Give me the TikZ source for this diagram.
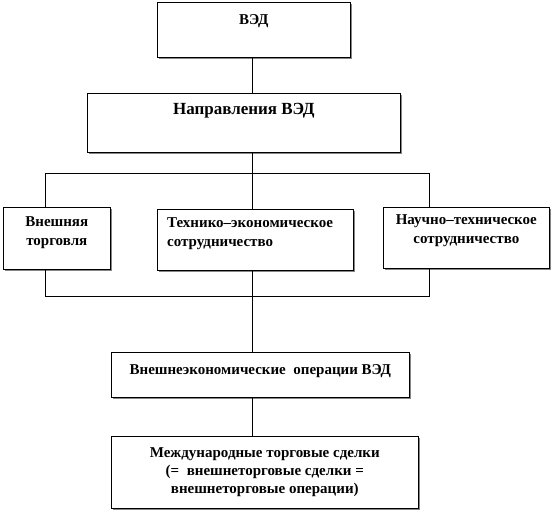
\documentclass[tikz,border=0pt]{standalone}
\usepackage{fontspec}
\setmainfont{Liberation Serif}
\usetikzlibrary{shadows}

\begin{document}
\begin{tikzpicture}[x=1pt,y=-1pt,
  box/.style={draw, line width=.6pt, fill=white, anchor=north west, inner sep=0pt,
    drop shadow={shadow xshift=1.2pt, shadow yshift=-1.2pt, fill=black!60, opacity=.8}},
  txt/.style={anchor=north, inner sep=0pt, align=center, font=\bfseries\fontsize{15}{19.5}\selectfont},
  link/.style={line width=.6pt}]
\useasboundingbox (0,0) rectangle (554,512);

% boxes
\node[box, minimum width=193, minimum height=55,
  label={[txt, yshift=-12pt]north:ВЭД}] (ved) at (157,2) {};
\node[box, minimum width=313, minimum height=59,
  label={[txt, yshift=-10pt, font=\bfseries\fontsize{17}{20}\selectfont]north:Направления ВЭД}] (napr) at (87,93) {};

\node[box, minimum width=107, minimum height=62,
  label={[txt, yshift=-9pt]north:Внешняя\\торговля}] (vt) at (3,207) {};
\node[box, minimum width=196, minimum height=61,
  label={[txt, anchor=north west, align=left, xshift=10pt, yshift=-8pt]north west:Технико–экономическое\\сотрудничество}] (tes) at (157,209) {};
\node[box, minimum width=166, minimum height=61,
  label={[txt, yshift=-7pt]north:Научно–техническое\\сотрудничество}] (nts) at (383,207) {};

\node[box, minimum width=298, minimum height=45,
  label={[txt, yshift=-12pt]north:Внешнеэкономические\ \ операции ВЭД}] (veo) at (111,352) {};
\node[box, minimum width=307, minimum height=72,
  label={[txt, yshift=-11pt, font=\bfseries\fontsize{15}{18}\selectfont]north:Международные торговые сделки\\(=\ \ внешнеторговые сделки =\\внешнеторговые операции)}] (mts) at (111,436) {};

% connectors
\coordinate (mx) at (252,0);
\coordinate (lx) at (45,0);
\coordinate (rx) at (429,0);
\coordinate (tbus) at (252,173);
\coordinate (bbus) at (252,296);

\draw[link] (ved.south -| mx) -- (napr.north -| mx);
\draw[link] (napr.south -| mx) -- (tes.north -| mx);
\draw[link] (tes.south -| mx) -- (veo.north -| mx);
\draw[link] (veo.south -| mx) -- (mts.north -| mx);

\draw[link] (vt.north -| lx) -- (tbus -| lx) -- (tbus -| rx) -- (nts.north -| rx);
\draw[link] (vt.south -| lx) -- (bbus -| lx) -- (bbus -| rx) -- (nts.south -| rx);
\end{tikzpicture}
\end{document}
